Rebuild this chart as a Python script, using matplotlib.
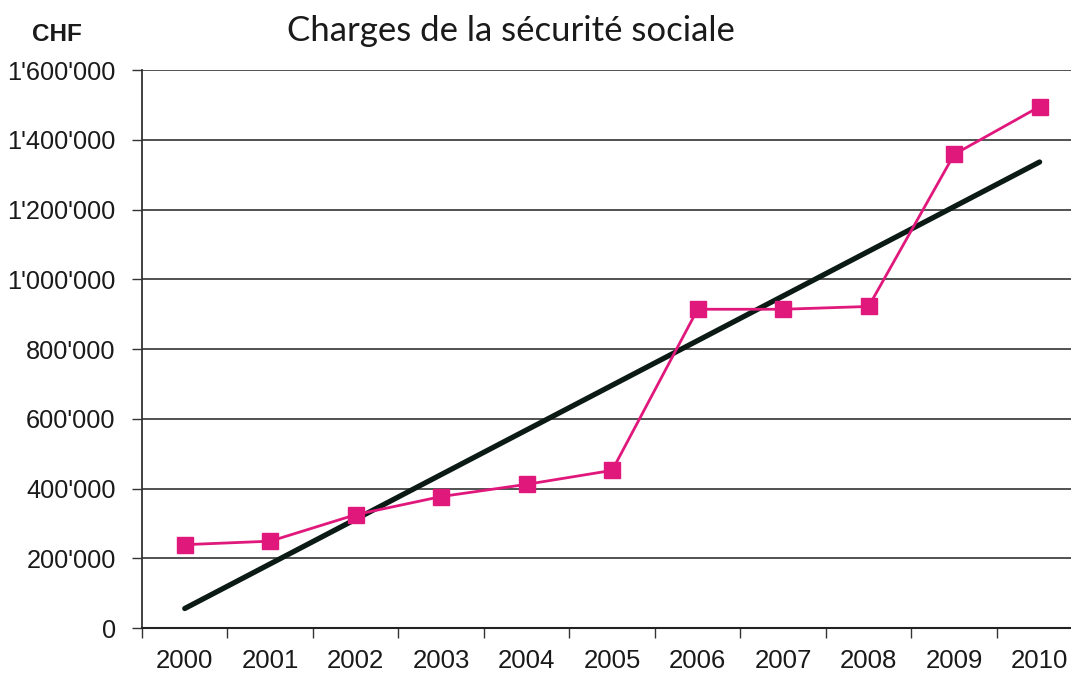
import matplotlib.pyplot as plt
from matplotlib.ticker import FuncFormatter
import numpy as np

# Charges de la sécurité sociale (CHF)
years = ['2000', '2001', '2002', '2003', '2004', '2005',
         '2006', '2007', '2008', '2009', '2010']
charges = [239000, 249000, 325000, 377000, 412000, 452000,
           914000, 914000, 922000, 1358000, 1495000]
y_ticks = [0, 200000, 400000, 600000, 800000, 1000000, 1200000, 1400000, 1600000]


def swiss_fmt(v, pos):
    return f"{int(v):,}".replace(',', "'")


def plot_charges():
    fig = plt.figure(figsize=(10.71, 6.81), dpi=100)
    ax = fig.add_axes([0.1326, 0.0778, 0.878, 0.8194])

    x = np.arange(len(years))
    ax.plot(x, charges, color='#e0187c', linewidth=2, marker='s',
            markersize=12, markeredgecolor='#e0187c', zorder=3)

    # linear trend line
    coef = np.polyfit(x, charges, 1)
    ax.plot([x[0], x[-1]], np.polyval(coef, [x[0], x[-1]]),
            color='#0b1a14', linewidth=3.8, solid_capstyle='round', zorder=2)

    ax.set_xlim(-0.5, len(years) - 0.5)
    ax.set_ylim(0, 1600000)
    ax.set_yticks(y_ticks)
    ax.yaxis.set_major_formatter(FuncFormatter(swiss_fmt))
    ax.set_xticks(x)
    ax.set_xticklabels(years)
    ax.set_xticks(np.arange(-0.5, len(years)), minor=True)
    ax.tick_params(axis='x', which='major', length=0, pad=15)
    ax.tick_params(axis='x', which='minor', length=7, width=1, color='#333333')
    ax.tick_params(axis='y', length=7, width=1, color='#333333', pad=12)

    for lab in ax.get_xticklabels():
        lab.set_fontfamily('Liberation Sans')
        lab.set_fontsize(18.5)
        lab.set_color('#1a1a1a')
    for lab in ax.get_yticklabels():
        lab.set_fontfamily('Liberation Sans')
        lab.set_fontsize(18.3)
        lab.set_color('#1a1a1a')

    ax.grid(True, axis='y', color='#333333', linewidth=1.2)
    ax.set_axisbelow(True)
    for side in ['top', 'right']:
        ax.spines[side].set_visible(False)
    ax.spines['left'].set_color('#333333')
    ax.spines['left'].set_linewidth(1.3)
    ax.spines['bottom'].set_color('#222222')
    ax.spines['bottom'].set_linewidth(1.5)

    fig.text(0.477, 0.940, 'Charges de la sécurité sociale', ha='center',
             va='baseline', fontsize=25, family='Lato', color='#1a1a1a')
    fig.text(0.053, 0.940, 'CHF', ha='center', va='baseline', fontsize=17.5,
             fontweight='bold', family='Liberation Sans', color='#1a1a1a')

    fig.savefig('out.png', dpi=100)
    plt.close(fig)


if __name__ == '__main__':
    plot_charges()
